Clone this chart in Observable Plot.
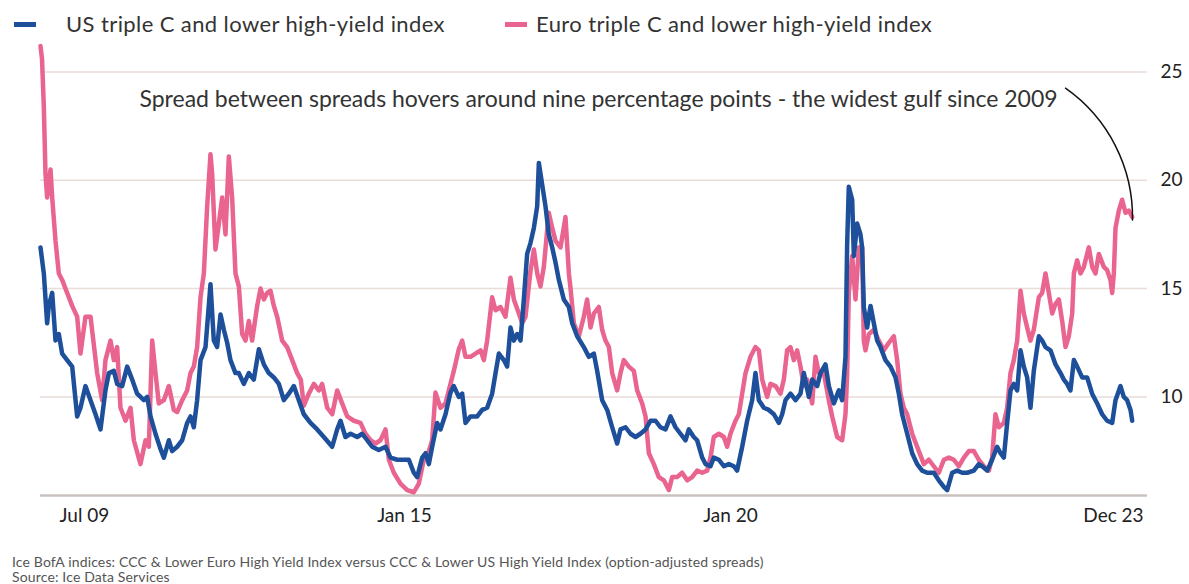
<!DOCTYPE html>
<html>
<head>
<meta charset="utf-8">
<script src="https://cdn.jsdelivr.net/npm/d3@7"></script>
<script src="https://cdn.jsdelivr.net/npm/@observablehq/plot@0.6"></script>
<style>
  html, body { margin: 0; padding: 0; background: #fff; }
  #wrap { position: relative; width: 1189px; height: 584px; overflow: hidden; font-family: Lato, "Noto Sans", sans-serif; }
  .sw { position: absolute; width: 22px; height: 5px; top: 22px; }
  .lt { position: absolute; top: 10px; font-size: 22px; letter-spacing: 0.4px; line-height: 28px; color: #333; white-space: nowrap; }
  #chart { position: absolute; left: 0; top: 40px; }
  .foot { position: absolute; left: 12px; font-size: 14px; letter-spacing: 0.15px; line-height: 15px; color: #555; white-space: nowrap; }
</style>
</head>
<body>
<div id="wrap">
  <div class="sw" style="left:14px;background:#1d4f9b"></div>
  <div class="lt" style="left:66px">US triple C and lower high-yield index</div>
  <div class="sw" style="left:505px;background:#e9648f"></div>
  <div class="lt" style="left:536px">Euro triple C and lower high-yield index</div>
  <div id="chart"></div>
  <div class="foot" style="top:554px">Ice BofA indices: CCC &amp; Lower Euro High Yield Index versus CCC &amp; Lower US High Yield Index (option-adjusted spreads)</div>
  <div class="foot" style="top:569px">Source: Ice Data Services</div>
</div>
<script>
// Series: decimal year and option-adjusted spread (%)
const usYear = [2009.500,2009.544,2009.588,2009.610,2009.655,2009.699,2009.743,2009.787,2009.853,2009.920,2009.986,2010.030,2010.096,2010.163,2010.229,2010.295,2010.361,2010.406,2010.472,2010.516,2010.582,2010.649,2010.715,2010.781,2010.870,2010.914,2010.958,2011.024,2011.090,2011.135,2011.201,2011.245,2011.311,2011.378,2011.444,2011.488,2011.532,2011.576,2011.621,2011.687,2011.753,2011.797,2011.841,2011.886,2011.930,2011.974,2012.018,2012.084,2012.129,2012.195,2012.261,2012.327,2012.394,2012.460,2012.526,2012.593,2012.659,2012.725,2012.791,2012.858,2012.924,2012.990,2013.079,2013.167,2013.255,2013.366,2013.432,2013.476,2013.542,2013.609,2013.697,2013.764,2013.830,2013.896,2013.984,2014.073,2014.139,2014.227,2014.316,2014.382,2014.448,2014.492,2014.559,2014.603,2014.647,2014.691,2014.757,2014.801,2014.868,2014.934,2014.978,2015.044,2015.089,2015.133,2015.199,2015.288,2015.354,2015.420,2015.486,2015.531,2015.575,2015.641,2015.685,2015.729,2015.774,2015.818,2015.862,2015.906,2015.950,2015.994,2016.039,2016.083,2016.105,2016.149,2016.193,2016.237,2016.282,2016.326,2016.370,2016.436,2016.503,2016.547,2016.613,2016.701,2016.767,2016.834,2016.878,2016.944,2017.011,2017.077,2017.143,2017.187,2017.254,2017.320,2017.386,2017.452,2017.519,2017.585,2017.651,2017.717,2017.784,2017.850,2017.916,2017.982,2018.049,2018.093,2018.159,2018.203,2018.270,2018.314,2018.380,2018.424,2018.491,2018.557,2018.623,2018.689,2018.733,2018.800,2018.866,2018.932,2018.976,2019.021,2019.087,2019.153,2019.220,2019.286,2019.330,2019.374,2019.441,2019.507,2019.573,2019.617,2019.684,2019.728,2019.794,2019.838,2019.904,2019.949,2020.015,2020.081,2020.125,2020.169,2020.191,2020.213,2020.258,2020.280,2020.324,2020.368,2020.390,2020.412,2020.456,2020.501,2020.545,2020.589,2020.633,2020.699,2020.766,2020.832,2020.876,2020.920,2020.987,2021.053,2021.119,2021.185,2021.252,2021.340,2021.406,2021.473,2021.517,2021.583,2021.649,2021.716,2021.782,2021.870,2021.936,2021.981,2022.047,2022.113,2022.179,2022.224,2022.268,2022.312,2022.356,2022.400,2022.445,2022.489,2022.533,2022.577,2022.621,2022.665,2022.732,2022.776,2022.820,2022.886,2022.953,2023.019,2023.063,2023.107,2023.151,2023.196,2023.240,2023.306,2023.372,2023.438,2023.505,2023.571,2023.637,2023.704,2023.748,2023.814,2023.858,2023.902,2023.947,2023.969];
const usSpread = [16.9,15.7,13.4,14.2,14.8,12.6,12.9,12.0,11.7,11.4,9.1,9.5,10.5,9.85,9.2,8.5,10.3,11.1,11.2,10.6,10.5,11.4,10.8,10.15,9.85,10.0,9.1,8.3,7.6,7.2,8.0,7.5,7.7,8.0,8.8,9.1,8.6,9.85,11.7,12.3,15.2,12.6,12.3,13.8,13.1,12.5,11.7,11.1,11.1,10.6,11.1,10.8,12.2,11.5,11.1,10.9,10.6,9.85,10.15,10.5,9.85,9.2,8.8,8.5,8.15,7.7,8.5,8.9,8.15,8.3,8.15,8.3,8.0,7.7,7.55,7.7,7.2,7.1,7.1,7.1,6.5,6.3,7.2,7.4,6.9,7.7,8.8,8.5,9.2,10.2,10.5,10.0,10.15,8.8,9.1,9.1,9.4,9.5,10.15,11.1,12.0,11.7,11.4,13.2,12.6,12.9,12.6,14.5,16.6,17.1,17.8,18.8,20.8,19.8,18.8,17.5,16.9,16.2,15.4,14.5,14.15,13.4,12.8,12.3,11.85,12.0,11.2,9.85,9.4,8.6,7.85,8.5,8.6,8.3,8.15,8.3,8.5,8.9,8.9,8.6,8.5,9.1,8.6,8.3,8.0,8.5,8.15,8.0,7.2,6.9,6.8,7.2,7.1,6.8,6.9,6.8,6.6,7.7,8.9,9.85,11.1,9.85,9.5,9.4,9.2,8.8,9.2,9.85,10.15,9.85,10.15,11.1,10.0,10.8,10.5,11.1,11.5,10.5,9.7,10.3,9.85,11.85,17.0,19.7,19.1,16.5,18.0,17.5,16.9,14.15,13.2,14.2,13.4,12.6,12.3,11.7,11.4,10.9,10.15,9.2,8.3,7.4,6.9,6.6,6.5,6.5,6.15,5.85,5.7,6.5,6.6,6.5,6.5,6.6,6.9,6.8,6.6,7.1,7.7,7.4,7.2,8.8,10.3,10.6,10.3,12.15,11.4,10.9,9.5,11.2,12.8,12.6,12.3,12.15,11.5,11.1,10.8,10.6,10.3,11.7,11.4,10.9,10.9,10.15,9.7,9.2,8.9,8.8,9.85,10.5,10.0,9.85,9.4,8.9];

const euroYear = [2009.500,2009.520,2009.544,2009.566,2009.588,2009.633,2009.655,2009.699,2009.743,2009.787,2009.853,2009.920,2009.986,2010.030,2010.096,2010.163,2010.251,2010.317,2010.361,2010.428,2010.472,2010.516,2010.560,2010.627,2010.693,2010.737,2010.825,2010.892,2010.936,2010.980,2011.024,2011.068,2011.135,2011.201,2011.267,2011.311,2011.378,2011.444,2011.488,2011.532,2011.576,2011.621,2011.665,2011.709,2011.753,2011.775,2011.819,2011.864,2011.908,2011.952,2011.996,2012.040,2012.084,2012.129,2012.173,2012.217,2012.261,2012.305,2012.372,2012.416,2012.460,2012.504,2012.548,2012.593,2012.637,2012.703,2012.769,2012.836,2012.902,2012.950,2012.990,2013.056,2013.123,2013.189,2013.233,2013.300,2013.366,2013.432,2013.498,2013.565,2013.653,2013.741,2013.807,2013.874,2013.940,2014.006,2014.073,2014.117,2014.183,2014.271,2014.360,2014.448,2014.514,2014.580,2014.647,2014.691,2014.735,2014.801,2014.868,2014.934,2014.978,2015.044,2015.089,2015.133,2015.199,2015.265,2015.332,2015.376,2015.420,2015.486,2015.531,2015.597,2015.663,2015.729,2015.774,2015.840,2015.884,2015.928,2015.994,2016.039,2016.083,2016.127,2016.171,2016.237,2016.282,2016.326,2016.392,2016.458,2016.503,2016.525,2016.569,2016.635,2016.701,2016.745,2016.790,2016.834,2016.900,2016.944,2016.988,2017.033,2017.077,2017.143,2017.187,2017.231,2017.298,2017.364,2017.408,2017.474,2017.519,2017.563,2017.629,2017.695,2017.762,2017.828,2017.872,2017.938,2018.004,2018.071,2018.137,2018.203,2018.270,2018.336,2018.380,2018.424,2018.491,2018.557,2018.601,2018.645,2018.711,2018.756,2018.800,2018.844,2018.910,2018.976,2019.021,2019.065,2019.131,2019.175,2019.242,2019.308,2019.352,2019.396,2019.440,2019.485,2019.529,2019.573,2019.617,2019.661,2019.728,2019.772,2019.816,2019.882,2019.948,2019.993,2020.059,2020.125,2020.169,2020.191,2020.213,2020.258,2020.302,2020.346,2020.390,2020.412,2020.434,2020.479,2020.545,2020.611,2020.677,2020.744,2020.810,2020.854,2020.898,2020.942,2020.987,2021.053,2021.141,2021.208,2021.274,2021.340,2021.406,2021.473,2021.539,2021.605,2021.671,2021.738,2021.804,2021.870,2021.936,2022.003,2022.069,2022.113,2022.157,2022.202,2022.268,2022.312,2022.356,2022.400,2022.445,2022.489,2022.533,2022.577,2022.621,2022.665,2022.732,2022.776,2022.820,2022.864,2022.909,2022.953,2022.997,2023.041,2023.085,2023.129,2023.174,2023.196,2023.240,2023.284,2023.328,2023.394,2023.439,2023.483,2023.527,2023.593,2023.637,2023.681,2023.704,2023.726,2023.748,2023.792,2023.836,2023.880,2023.924,2023.969];
const euroSpread = [26.2,25.6,23.4,20.3,19.2,20.5,19.2,17.2,15.7,15.4,14.8,14.2,13.7,12.0,13.7,13.7,11.1,9.85,11.7,12.6,11.7,12.3,9.5,8.9,9.5,8.0,6.9,8.0,7.7,12.6,11.1,9.7,9.85,10.5,9.4,9.3,9.85,10.3,11.1,11.4,12.3,14.6,15.7,18.8,21.2,20.3,16.8,18.0,19.2,17.5,21.1,19.2,15.7,15.1,12.9,12.6,13.5,12.6,14.2,15.0,14.5,14.8,14.9,14.2,13.7,12.6,12.3,11.7,11.1,10.8,9.6,10.15,10.6,10.3,10.6,9.5,9.2,10.3,9.7,9.1,8.9,8.8,8.3,8.0,7.85,8.0,8.5,7.1,6.5,6.0,5.7,5.6,6.0,7.1,7.5,8.0,10.2,9.5,9.7,10.6,11.2,12.2,12.6,11.85,11.85,12.0,12.15,11.7,12.6,14.6,14.0,14.15,13.7,15.5,14.5,13.85,13.4,13.7,15.8,16.8,15.7,15.1,16.0,18.5,17.8,17.2,16.9,18.3,15.7,15.0,13.4,12.8,13.7,14.5,13.2,13.85,14.15,13.1,12.6,12.3,11.1,10.3,11.1,11.7,11.4,11.2,10.3,9.7,9.1,7.4,6.9,6.3,6.15,5.7,6.3,6.3,6.5,6.15,6.3,6.6,6.5,6.6,7.2,8.15,8.3,8.15,7.7,8.3,8.9,9.2,10.15,11.1,11.85,12.3,12.15,10.8,10.0,10.6,10.5,10.15,10.8,12.15,12.3,11.7,12.15,11.4,10.5,10.8,9.7,11.85,11.1,11.1,9.85,9.1,8.15,8.0,9.2,11.0,14.8,16.5,14.5,16.9,16.9,12.6,12.15,12.9,13.1,12.6,12.15,12.5,12.8,11.7,10.15,9.5,9.2,8.3,7.5,6.9,7.1,6.8,6.5,7.1,7.2,7.1,6.8,7.2,7.5,7.5,7.1,6.8,6.6,7.2,9.2,8.6,8.8,9.5,11.1,11.7,12.6,14.9,13.85,13.2,12.6,13.1,14.6,14.8,15.7,14.8,13.85,14.3,14.5,13.5,12.3,12.8,13.85,15.7,16.3,15.7,16.0,16.9,16.0,15.7,16.6,16.0,15.85,15.4,14.8,15.7,17.8,18.6,19.1,18.5,18.6,18.3];

const yTicks = [10, 15, 20, 25];
const xTickPos = [2010.083, 2014.324, 2018.645, 2023.721];
const xTickLabels = ["Jul 09", "Jan 15", "Jan 20", "Dec 23"];

const noteText = "Spread between spreads hovers around nine percentage points - the widest gulf since 2009";
const note = [{x: 2010.812, y: 23.74, text: noteText}];
const pointer = [{x1: 2023.085, y1: 24.25, x2: 2023.973, y2: 18.16}];

const blue = "#1d4f9b", pink = "#e9648f";
const us = usYear.map((y, i) => ({year: y, value: usSpread[i]}));
const euro = euroYear.map((y, i) => ({year: y, value: euroSpread[i]}));

const chart = Plot.plot({
  width: 1189,
  height: 495,
  marginLeft: 40,
  marginRight: 42,
  marginTop: 0,
  marginBottom: 40,
  x: {type: "linear", domain: [2009.5, 2024.172]},
  y: {domain: [5.45, 26.45]},
  style: {fontFamily: "Lato, 'Noto Sans', sans-serif", background: "transparent", overflow: "visible", color: "#222"},
  marks: [
    Plot.gridY(yTicks, {stroke: "#e8ddd8", strokeOpacity: 1, strokeWidth: 1.5}),
    Plot.axisY(yTicks, {anchor: "right", tickSize: 0, tickPadding: 13, fontSize: 19, fill: "#222", label: null}),
    Plot.axisX(xTickPos, {anchor: "bottom", tickSize: 0, tickPadding: 13, fontSize: 19, fill: "#222", label: null,
      tickFormat: d => xTickLabels[xTickPos.indexOf(d)]}),
    Plot.ruleY([5.45], {stroke: "#c9c2bf", strokeWidth: 2.5}),
    Plot.line(euro, {x: "year", y: "value", stroke: pink, strokeWidth: 4.5, strokeLinejoin: "round"}),
    Plot.line(us, {x: "year", y: "value", stroke: blue, strokeWidth: 4.5, strokeLinejoin: "round"}),
    Plot.arrow(pointer, {x1: "x1", y1: "y1", x2: "x2", y2: "y2", bend: 28, headLength: 0, stroke: "#111", strokeWidth: 1.5}),
    Plot.text(note, {x: "x", y: "y", text: "text", textAnchor: "start", fontSize: 23, fill: "#333"})
  ]
});
document.getElementById("chart").appendChild(chart);
</script>
</body>
</html>
